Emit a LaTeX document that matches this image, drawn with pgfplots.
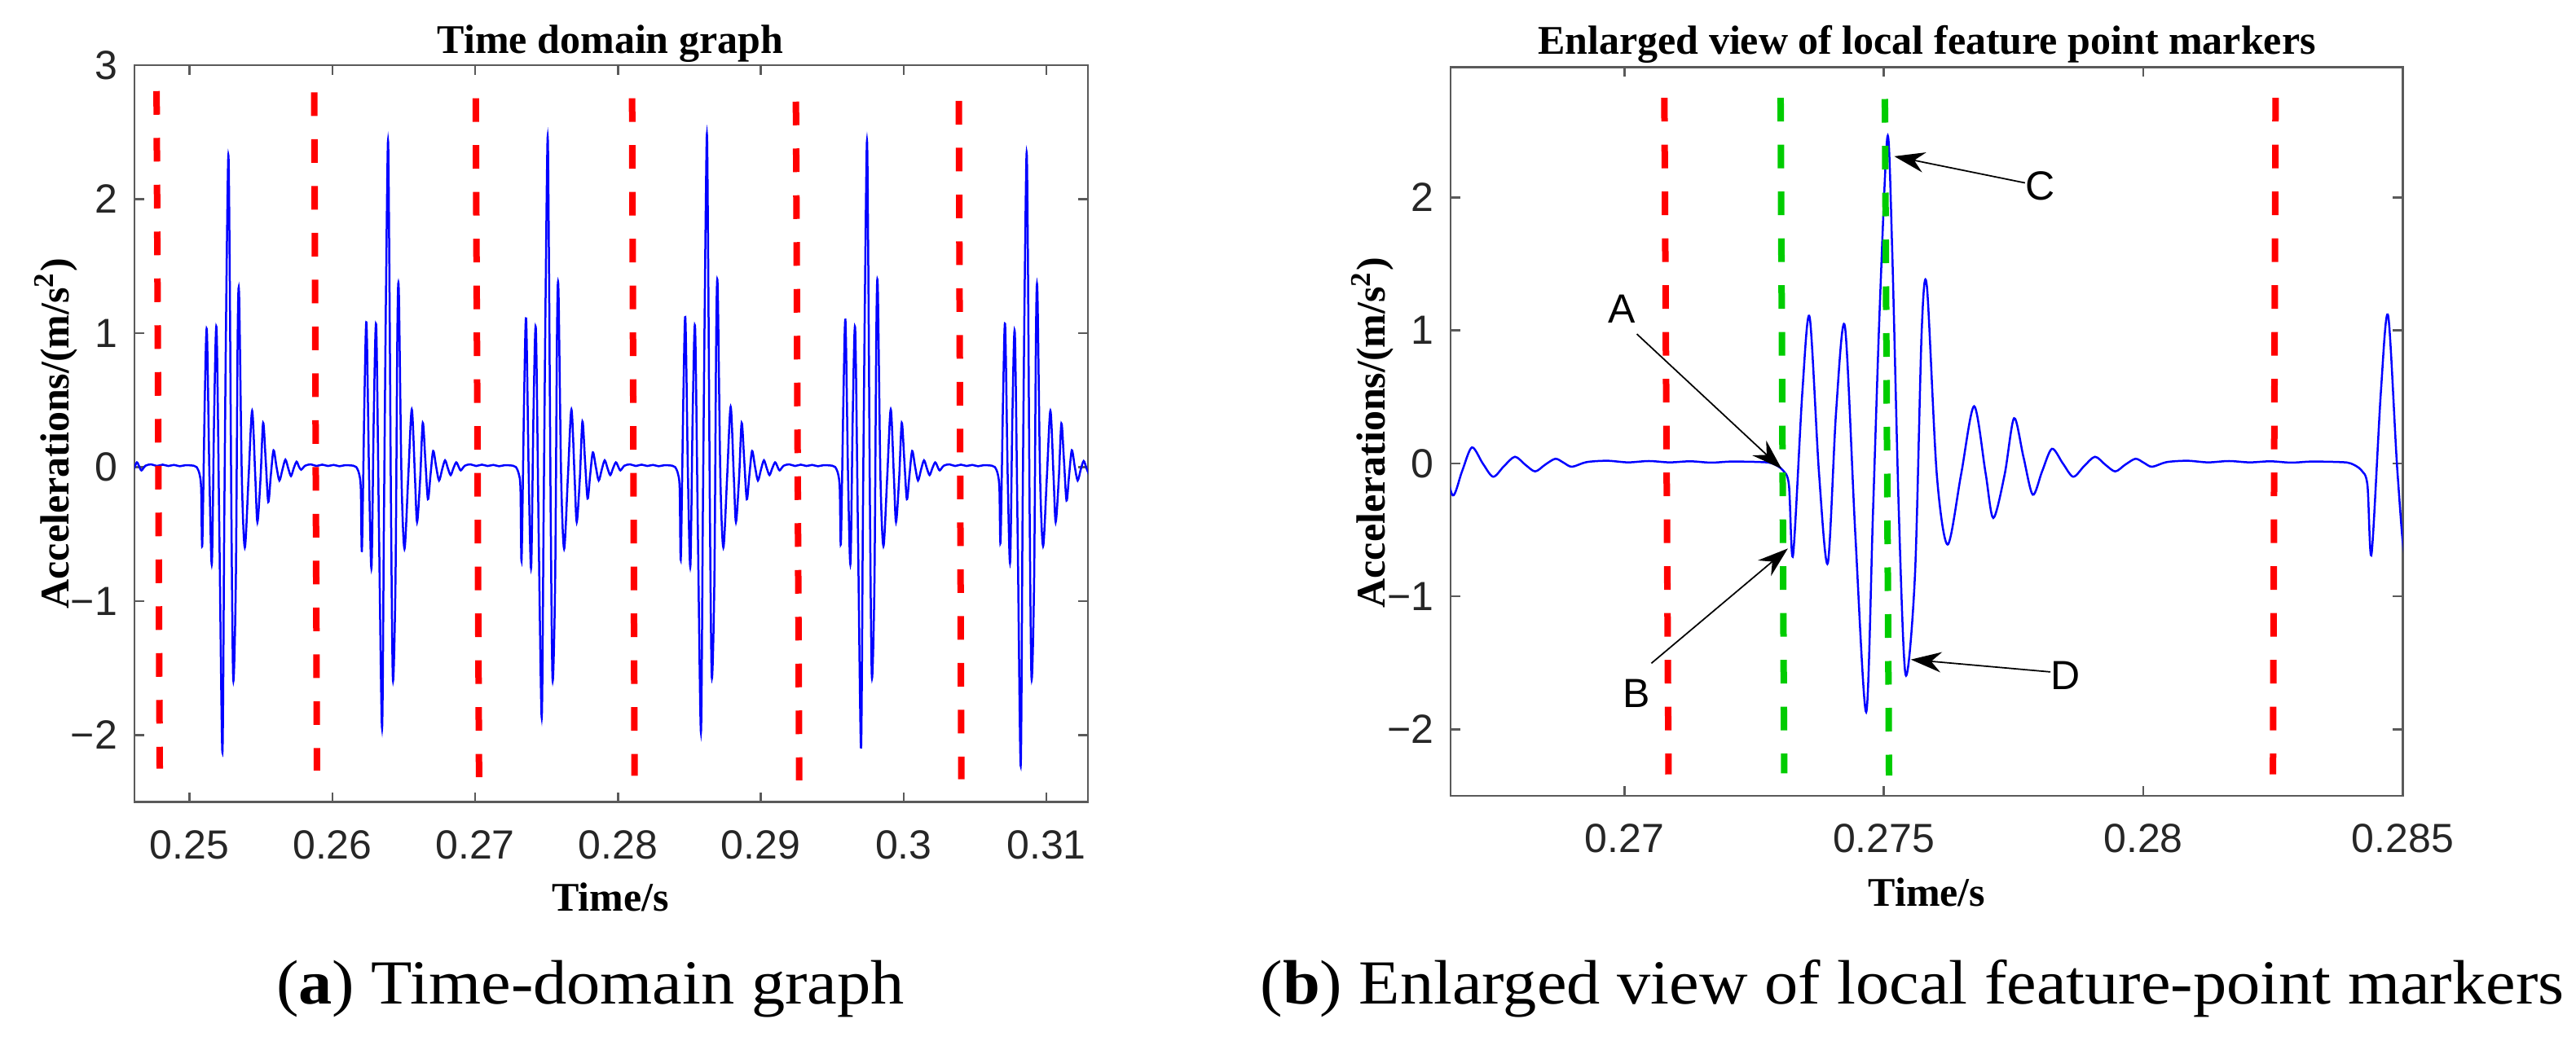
\documentclass[border=0pt]{standalone}
\usepackage{fontspec}
\setmainfont{Liberation Serif}
\newfontfamily\tickfont{Liberation Sans}
\newfontfamily\capfont[FakeStretch=1.07]{Liberation Serif}
\usepackage{pgfplots}
\pgfplotsset{compat=1.18}
\usepackage{pgfplotstable}
\usetikzlibrary{arrows.meta}
\definecolor{mgreen}{RGB}{0,204,0}
\definecolor{axgray}{RGB}{90,90,90}

\pgfplotstableread{
t y
0.24592 -0.06
0.24611 -0.01
0.24631 0.035
0.24647 0.005
0.24663 -0.025
0.24691 0.010
0.24731 0.020
0.24771 0.008
0.24811 0.018
0.24851 0.008
0.24891 0.016
0.24931 0.006
0.24971 0.014
0.25029 0.010
0.25049 0.000
0.25069 -0.05
0.25081 -0.16
0.25089 -0.58
0.25107 0.54
0.25121 1.02
0.25139 -0.07
0.25156 -0.72
0.25172 0.39
0.25189 1.03
0.25209 -0.53
0.25230 -2.13
0.25243 -0.38
0.25256 1.16
0.25271 2.32
0.25280 1.62
0.25293 -0.38
0.25306 -1.59
0.25324 -0.84
0.25337 1.00
0.25347 1.28
0.25366 -0.08
0.25387 -0.60
0.25413 -0.08
0.25438 0.42
0.25460 -0.07
0.25475 -0.41
0.25497 -0.08
0.25515 0.33
0.25533 0.05
0.25551 -0.26
0.25569 -0.06
0.25588 0.125
0.25609 0.00
0.25629 -0.10
0.25650 -0.02
0.25671 0.055
0.25691 -0.01
0.25710 -0.067
0.25729 -0.01
0.25749 0.04
0.25765 0.005
0.25781 -0.02
0.25809 0.010
0.25849 0.020
0.25889 0.008
0.25929 0.018
0.25969 0.008
0.26009 0.016
0.26049 0.006
0.26089 0.014
0.26147 0.010
0.26167 0.000
0.26187 -0.05
0.26199 -0.16
0.26207 -0.615
0.26225 0.54
0.26239 1.07
0.26257 -0.07
0.26274 -0.75
0.26290 0.39
0.26307 1.05
0.26327 -0.53
0.26348 -1.95
0.26361 -0.38
0.26374 1.16
0.26389 2.43
0.26398 1.62
0.26411 -0.38
0.26424 -1.59
0.26442 -0.84
0.26455 1.00
0.26465 1.32
0.26484 -0.08
0.26505 -0.61
0.26531 -0.08
0.26556 0.43
0.26578 -0.07
0.26593 -0.41
0.26615 -0.08
0.26633 0.33
0.26651 0.05
0.26669 -0.24
0.26687 -0.06
0.26706 0.12
0.26727 0.00
0.26747 -0.10
0.26768 -0.02
0.26789 0.05
0.26809 -0.01
0.26828 -0.06
0.26847 -0.01
0.26867 0.035
0.26883 0.005
0.26899 -0.025
0.26927 0.010
0.26967 0.020
0.27007 0.008
0.27047 0.018
0.27087 0.008
0.27127 0.016
0.27167 0.006
0.27207 0.014
0.27265 0.010
0.27285 0.000
0.27305 -0.05
0.27317 -0.16
0.27325 -0.69
0.27343 0.54
0.27357 1.10
0.27375 -0.07
0.27392 -0.75
0.27408 0.39
0.27425 1.03
0.27445 -0.53
0.27466 -1.87
0.27479 -0.38
0.27492 1.16
0.27507 2.46
0.27516 1.62
0.27529 -0.38
0.27542 -1.59
0.27560 -0.84
0.27573 1.00
0.27583 1.33
0.27602 -0.08
0.27623 -0.61
0.27649 -0.08
0.27674 0.43
0.27696 -0.07
0.27711 -0.41
0.27733 -0.08
0.27751 0.34
0.27769 0.05
0.27787 -0.235
0.27805 -0.06
0.27824 0.11
0.27845 0.00
0.27865 -0.10
0.27886 -0.02
0.27907 0.05
0.27927 -0.01
0.27946 -0.06
0.27965 -0.01
0.27985 0.035
0.28001 0.005
0.28017 -0.025
0.28045 0.010
0.28085 0.020
0.28125 0.008
0.28165 0.018
0.28205 0.008
0.28245 0.016
0.28285 0.006
0.28325 0.014
0.28380 0.010
0.28400 0.000
0.28420 -0.05
0.28432 -0.16
0.28440 -0.68
0.28458 0.54
0.28472 1.11
0.28490 -0.07
0.28507 -0.74
0.28523 0.39
0.28540 1.04
0.28560 -0.53
0.28581 -1.98
0.28594 -0.38
0.28607 1.16
0.28622 2.48
0.28631 1.62
0.28644 -0.38
0.28657 -1.57
0.28675 -0.84
0.28688 1.00
0.28698 1.35
0.28717 -0.08
0.28738 -0.60
0.28764 -0.08
0.28789 0.45
0.28811 -0.07
0.28826 -0.41
0.28848 -0.08
0.28866 0.33
0.28884 0.05
0.28902 -0.24
0.28920 -0.06
0.28939 0.12
0.28960 0.00
0.28980 -0.10
0.29001 -0.02
0.29022 0.05
0.29042 -0.01
0.29061 -0.06
0.29080 -0.01
0.29100 0.035
0.29116 0.005
0.29132 -0.025
0.29160 0.010
0.29200 0.020
0.29240 0.008
0.29280 0.018
0.29320 0.008
0.29360 0.016
0.29400 0.006
0.29440 0.014
0.29501 0.010
0.29521 0.000
0.29541 -0.05
0.29553 -0.16
0.29561 -0.565
0.29579 0.54
0.29593 1.09
0.29611 -0.07
0.29628 -0.72
0.29644 0.39
0.29661 1.03
0.29681 -0.53
0.29702 -2.10
0.29715 -0.38
0.29728 1.16
0.29743 2.43
0.29752 1.62
0.29765 -0.38
0.29778 -1.57
0.29796 -0.84
0.29809 1.00
0.29819 1.35
0.29838 -0.08
0.29859 -0.59
0.29885 -0.08
0.29910 0.43
0.29932 -0.07
0.29947 -0.41
0.29969 -0.08
0.29987 0.33
0.30005 0.05
0.30023 -0.24
0.30041 -0.06
0.30060 0.12
0.30081 0.00
0.30101 -0.10
0.30122 -0.02
0.30143 0.05
0.30163 -0.01
0.30182 -0.06
0.30201 -0.01
0.30221 0.035
0.30237 0.005
0.30253 -0.025
0.30281 0.010
0.30321 0.020
0.30361 0.008
0.30401 0.018
0.30441 0.008
0.30481 0.016
0.30521 0.006
0.30561 0.014
0.30619 0.010
0.30639 0.000
0.30659 -0.05
0.30671 -0.16
0.30679 -0.555
0.30697 0.54
0.30711 1.06
0.30729 -0.07
0.30746 -0.71
0.30762 0.39
0.30779 1.00
0.30799 -0.53
0.30820 -2.23
0.30833 -0.38
0.30846 1.16
0.30861 2.34
0.30870 1.62
0.30883 -0.38
0.30896 -1.58
0.30914 -0.84
0.30927 1.00
0.30937 1.31
0.30956 -0.08
0.30977 -0.59
0.31003 -0.08
0.31028 0.42
0.31050 -0.07
0.31065 -0.41
0.31087 -0.08
0.31105 0.325
0.31123 0.05
0.31141 -0.25
0.31159 -0.06
0.31178 0.125
0.31199 0.00
0.31219 -0.10
0.31240 -0.02
0.31261 0.045
0.31281 -0.01
0.31300 -0.06
}\sig

\pgfplotsset{
  myax/.style={scale only axis, anchor=south west, clip=true,
    tick align=inside, major tick length=2.4pt,
    axis line style={axgray, line width=0.5pt},
    tick style={axgray, line width=0.5pt},
    ticklabel style={font=\tickfont\fontsize{10pt}{12pt}\selectfont, text=black!85},
    xticklabel style={anchor=base, yshift=-13.9pt},
    yticklabel style={anchor=east, inner sep=0pt, xshift=-4pt},
  },
  sig/.style={blue, line width=0.5pt, smooth},
  rdash/.style={red, line width=1.6pt, dash pattern=on 5.8pt off 5.7pt},
  gdash/.style={mgreen, line width=1.6pt, dash pattern=on 5.8pt off 5.7pt},
}

\begin{document}
\begin{tikzpicture}[x=1pt,y=1pt]
\useasboundingbox (0,0) rectangle (632.2,255.4);

\begin{axis}[myax, at={(33pt,58.5pt)}, width=234pt, height=180.9pt,
  xmin=0.24614, xmax=0.31291, ymin=-2.5, ymax=3,
  xtick={0.25,0.26,0.27,0.28,0.29,0.3,0.31},
  xticklabels={0.25,0.26,0.27,0.28,0.29,0.3,0.31},
  ytick={-2,-1,0,1,2,3}, yticklabels={−2,−1,0,1,2,3}]
\addplot[sig] table[x=t,y=y]{\sig};
\addplot[rdash] coordinates {(0.24769,2.807) (0.24791,-2.252)};
\addplot[rdash] coordinates {(0.25873,2.797) (0.25892,-2.267)};
\addplot[rdash] coordinates {(0.27004,2.753) (0.27027,-2.315)};
\addplot[rdash] coordinates {(0.28099,2.753) (0.28116,-2.305)};
\addplot[rdash] coordinates {(0.29246,2.728) (0.29269,-2.340)};
\addplot[rdash] coordinates {(0.30387,2.733) (0.30404,-2.330)};
\end{axis}

\begin{axis}[myax, at={(356pt,60pt)}, width=233.66pt, height=178.9pt,
  xmin=0.26665, xmax=0.285, ymin=-2.5, ymax=2.98,
  xtick={0.27,0.275,0.28,0.285},
  xticklabels={0.27,0.275,0.28,0.285},
  ytick={-2,-1,0,1,2}, yticklabels={−2,−1,0,1,2}]
\addplot[sig] table[x=t,y=y]{\sig};
\addplot[rdash] coordinates {(0.27077,2.750) (0.27085,-2.339)};
\addplot[gdash] coordinates {(0.27301,2.750) (0.27308,-2.331)};
\addplot[gdash] coordinates {(0.27502,2.741) (0.27510,-2.347)};
\addplot[rdash] coordinates {(0.28255,2.750) (0.28250,-2.339)};
\draw[-{Stealth[length=7.5pt,width=5pt,inset=2.5pt]}, line width=0.35pt] (axis cs:0.27024,0.973) -- (axis cs:0.27303,-0.04);
\draw[-{Stealth[length=7.5pt,width=5pt,inset=2.5pt]}, line width=0.35pt] (axis cs:0.27052,-1.503) -- (axis cs:0.27315,-0.64);
\draw[-{Stealth[length=7.5pt,width=5pt,inset=2.5pt]}, line width=0.35pt] (axis cs:0.27772,2.11) -- (axis cs:0.27520,2.31);
\draw[-{Stealth[length=7.5pt,width=5pt,inset=2.5pt]}, line width=0.35pt] (axis cs:0.27821,-1.568) -- (axis cs:0.27552,-1.475);
\node[font=\tickfont\fontsize{10pt}{12pt}\selectfont, inner sep=0pt] at (axis cs:0.26995,1.159) {A};
\node[font=\tickfont\fontsize{10pt}{12pt}\selectfont, inner sep=0pt] at (axis cs:0.27024,-1.729) {B};
\node[font=\tickfont\fontsize{10pt}{12pt}\selectfont, inner sep=0pt] at (axis cs:0.27801,2.087) {C};
\node[font=\tickfont\fontsize{10pt}{12pt}\selectfont, inner sep=0pt] at (axis cs:0.27850,-1.593) {D};
\end{axis}

\node[font=\bfseries\fontsize{10pt}{12pt}\selectfont, anchor=base, inner sep=0pt] at (149.8,242.4) {Time domain graph};
\node[font=\bfseries\fontsize{10pt}{12pt}\selectfont, anchor=base, inner sep=0pt] at (472.9,242.2) {Enlarged view of local feature point markers};
\node[font=\bfseries\fontsize{10pt}{12pt}\selectfont, anchor=base, inner sep=0pt] at (149.8,31.8) {Time/s};
\node[font=\bfseries\fontsize{10pt}{12pt}\selectfont, anchor=base, inner sep=0pt] at (472.9,33.0) {Time/s};
\node[font=\bfseries\fontsize{10pt}{12pt}\selectfont, anchor=base, inner sep=0pt, rotate=90] at (16.8,149.0) {Accelerations/(m/s\textsuperscript{2})};
\node[font=\bfseries\fontsize{10pt}{12pt}\selectfont, anchor=base, inner sep=0pt, rotate=90] at (339.9,149.2) {Accelerations/(m/s\textsuperscript{2})};
\node[font=\capfont\fontsize{15.4pt}{18pt}\selectfont, anchor=base, inner sep=0pt] at (144.9,9.0) {(\textbf{a}) Time-domain graph};
\node[font=\capfont\fontsize{15.4pt}{18pt}\selectfont, anchor=base, inner sep=0pt] at (469.3,9.0) {(\textbf{b}) Enlarged view of local feature-point markers};
\end{tikzpicture}
\end{document}
